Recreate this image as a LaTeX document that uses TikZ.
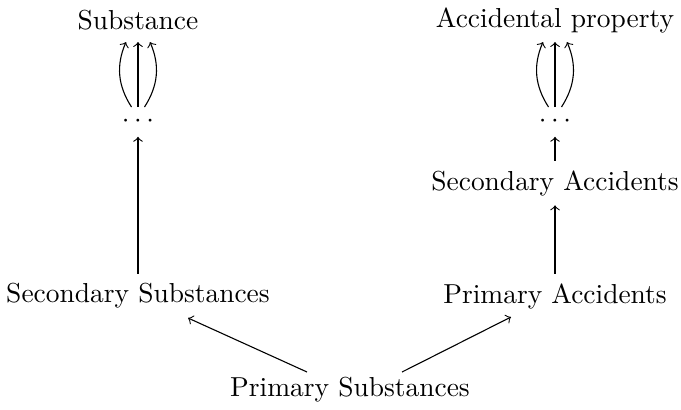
\documentclass[tikz,border=0pt]{standalone}
\usepackage{tikz}
\usetikzlibrary{calc}

\begin{document}
\begin{tikzpicture}[x=0.0128cm, y=-0.0128cm, >=to]
\useasboundingbox (0,0) rectangle (681,409);
% top row
\node (sub) at (138,20) {Substance};
\node (acc) at (555,20) {Accidental property};
% dots
\node (dl) at (138,121) {$\cdots$};
\node (dr) at (555,121) {$\cdots$};
% middle rows
\node (sa) at (555,183) {Secondary Accidents};
\node (ss) at (138,296) {Secondary Substances};
\node (pa) at (555,296) {Primary Accidents};
\node (ps) at (350,390) {Primary Substances};
% arrows up to the summa genera
\draw[->] ($(dl)+(-6.5,-14)$) to[bend left=28] ($(sub)+(-12,22)$);
\draw[->] ($(dl)+(0,-14)$) -- ($(sub)+(0,22)$);
\draw[->] ($(dl)+(6.5,-14)$) to[bend right=28] ($(sub)+(12,22)$);
\draw[->] ($(dr)+(-6.5,-14)$) to[bend left=28] ($(acc)+(-12,22)$);
\draw[->] ($(dr)+(0,-14)$) -- ($(acc)+(0,22)$);
\draw[->] ($(dr)+(6.5,-14)$) to[bend right=28] ($(acc)+(12,22)$);
% chains
\draw[->] (ss) -- (dl);
\draw[->] (pa) -- (sa);
\draw[->] (sa) -- (dr);
\draw[->] ($(ps)+(-43,-18)$) -- ($(ss)+(50,22)$);
\draw[->] ($(ps)+(52,-18)$) -- ($(pa)+(-44,21)$);
\end{tikzpicture}
\end{document}
